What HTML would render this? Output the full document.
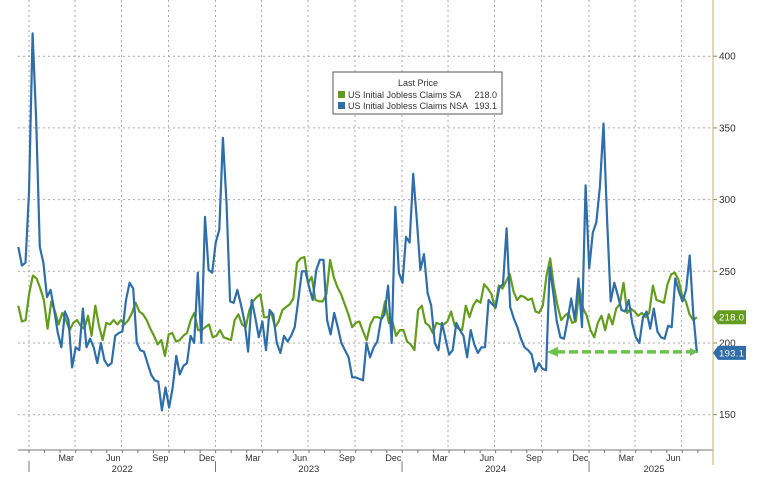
<!DOCTYPE html>
<html><head><meta charset="utf-8">
<style>
html,body{margin:0;padding:0;background:#fff;}
svg{display:block;font-family:"Liberation Sans",sans-serif;}
</style></head>
<body>
<svg id="chart" width="760" height="485" viewBox="0 0 760 485" xmlns="http://www.w3.org/2000/svg">
<g id="grid"></g>
<g id="xaxis"></g>
<g id="yaxis"></g>
<g id="series"></g>
<g id="annot"></g>
<g>
  <rect x="333" y="72" width="169" height="42" fill="#fff" stroke="#555" stroke-width="1"/>
  <text x="418" y="86" font-size="9" text-anchor="middle" fill="#333">Last Price</text>
  <rect x="338" y="91" width="7" height="7" fill="#5f9a1c"/>
  <text x="348" y="98" font-size="9" fill="#333">US Initial Jobless Claims SA</text>
  <text x="497" y="98" font-size="9" fill="#333" text-anchor="end">218.0</text>
  <rect x="338" y="102" width="7" height="7" fill="#2f6ea8"/>
  <text x="348" y="109" font-size="9" fill="#333">US Initial Jobless Claims NSA</text>
  <text x="497" y="109" font-size="9" fill="#333" text-anchor="end">193.1</text>
</g>
</svg>
<script>
const yTicks = [150, 200, 250, 300, 350, 400];
const monthLabels = ["Mar","Jun","Sep","Dec","Mar","Jun","Sep","Dec","Mar","Jun","Sep","Dec","Mar","Jun"];
const monthLabelDays = [73,165,257,348,438,530,622,713,804,896,988,1079,1169,1261];
const yearLabels = ["2022","2023","2024","2025"];
const yearStartDays = [0,365,730,1096];
const seriesStartDay = -21;
const seriesEndDay = 1307;
const nsaValues = [267,254,256,305,416,355,267,256,232,237,223,207,197,222,216,183,197,195,224,197,203,197,186,200,188,184,186,205,207,208,230,242,238,200,195,194,186,178,174,173,153,169,155,169,191,178,184,186,205,200,249,
200,288,251,249,270,279,343,298,229,228,237,227,215,194,230,218,204,215,195,223,220,200,193,205,201,205,211,230,250,250,239,230,251,258,258,216,206,221,211,200,195,190,176,176,175,174,200,190,197,
201,216,220,240,200,295,249,242,274,270,318,286,251,262,235,226,200,195,214,203,192,195,214,209,205,190,209,199,193,197,197,230,227,225,239,241,280,225,217,211,203,197,195,192,180,186,182,181,
253,235,215,204,203,216,231,216,245,211,310,252,277,284,309,353,286,229,242,233,223,222,230,214,204,200,218,222,210,224,208,204,203,212,211,245,236,229,237,261,220,193.1];
const saValues = [226,215,216,235,247,245,238,230,210,229,222,213,221,216,209,214,216,212,210,219,205,226,212,202,214,213,216,213,216,213,216,221,228,222,220,216,210,205,199,202,191,206,207,201,202,205,207,216,221,
209,209,211,213,204,205,209,204,203,202,216,220,213,211,223,229,232,234,218,218,221,211,215,223,225,227,231,256,259,260,242,246,230,229,229,234,258,246,239,234,227,220,211,214,215,208,202,213,218,
218,217,229,214,215,205,209,209,201,199,195,223,226,214,212,207,214,213,213,215,222,212,210,209,226,218,226,230,228,241,238,234,224,240,238,243,248,236,230,233,232,230,231,222,221,226,247,
259,240,226,216,219,221,214,215,238,224,219,209,204,214,219,209,220,213,224,227,242,221,224,222,219,221,218,221,240,230,229,228,241,248,249,244,233,229,220,216,218];
const lastSA = 218.0;
const lastNSA = 193.1;

const NS = "http://www.w3.org/2000/svg";
const X0 = 29, PXD = 0.5110, AXR = 713, AXB = 450;
function xScale(d){ return X0 + d * PXD; }
function yScale(v){ return 343 - (v - 200) * 1.434; }
function mk(tag, parent, attrs){ const e = document.createElementNS(NS, tag); for (const k in attrs) e.setAttribute(k, attrs[k]); parent.appendChild(e); return e; }

const grid = document.getElementById('grid');
const xa = document.getElementById('xaxis');
const ya = document.getElementById('yaxis');
const ser = document.getElementById('series');
const an = document.getElementById('annot');

yTicks.forEach(v => {
  const y = yScale(v);
  const l = mk('line', grid, {x1:18, x2:AXR, y1:y, y2:y, stroke:'#aaa', 'stroke-width':1, 'stroke-dasharray':'2,3'});
  
  
  mk('line', ya, {x1:AXR, x2:AXR+4, y1:y, y2:y, stroke:'#8a8a50', 'stroke-width':1});
  const t = mk('text', ya, {x:AXR+6, y:y+3.5, 'font-size':10, fill:'#333'});
  t.textContent = v;
  
  
});
for (let q = 0; q < 15; q++) {
  const yr = Math.floor(q/4), qq = q % 4;
  const d = yearStartDays[Math.min(yr,3)] + [0,90,181,273][qq] + (yr > 3 ? 365 : 0);
  const x = xScale(d);
  if (x > AXR) break;
  const l = mk('line', grid, {x1:x, x2:x, y1:0, y2:AXB, stroke:'#aaa', 'stroke-width':1, 'stroke-dasharray':'2,3'});
  
  
}
mk('line', ya, {x1:AXR, x2:AXR, y1:0, y2:465, stroke:'#b7b57a', 'stroke-width':1});
mk('line', xa, {x1:18, x2:AXR, y1:AXB, y2:AXB, stroke:'#777', 'stroke-width':1});
for (let m = -1; m < 44; m++) {
  const d = m * 30.44;
  const x = xScale(d);
  if (x < 18 || x > AXR) continue;
  mk('line', xa, {x1:x, x2:x, y1:AXB, y2:AXB+3, stroke:'#777', 'stroke-width':1});
}
monthLabels.forEach((s, i) => {
  const t = mk('text', xa, {x:xScale(monthLabelDays[i]), y:AXB+11, 'font-size':9, fill:'#333', 'text-anchor':'middle'});
  t.textContent = s;
  
  
});
yearLabels.forEach((s, i) => {
  const xs = xScale(yearStartDays[i]);
  mk('line', xa, {x1:xs, x2:xs, y1:AXB+11, y2:AXB+22, stroke:'#777', 'stroke-width':1});
  const end = i < 3 ? xScale(yearStartDays[i+1]) : 697 + 22;
  const t = mk('text', xa, {x:(xs+end)/2, y:AXB+22, 'font-size':9.5, fill:'#333', 'text-anchor':'middle'});
  t.textContent = s;
  
  
});

function drawSeries(vals, color, name){
  const n = vals.length;
  const pts = vals.map((v, i) => {
    const d = seriesStartDay + i * (seriesEndDay - seriesStartDay) / (n - 1);
    return xScale(d).toFixed(1) + ',' + yScale(v).toFixed(1);
  }).join(' ');
  const p = mk('polyline', ser, {points:pts, fill:'none', stroke:color, 'stroke-width':2.2, 'stroke-linejoin':'round'});
  
  
}
drawSeries(saValues, '#649c1e', 'sa-line');
drawSeries(nsaValues, '#2f6ea8', 'nsa-line');

const ay = yScale(lastNSA) - 1;
const arr = mk('line', an, {x1:556, x2:692, y1:ay, y2:ay, stroke:'#6cc24a', 'stroke-width':3.5, 'stroke-dasharray':'9,4'});


mk('polygon', an, {points:`547,${ay} 558,${ay-5} 558,${ay+5}`, fill:'#6cc24a'});
mk('polygon', an, {points:`698,${ay} 690,${ay-4} 690,${ay+4}`, fill:'#6cc24a'});

function tag(v, color, name){
  const y = yScale(v);
  const g = mk('g', ya, {});
  
  
  mk('polygon', g, {points:`${AXR},${y} ${AXR+5},${y-7} ${AXR+33},${y-7} ${AXR+33},${y+7} ${AXR+5},${y+7}`, fill:color});
  const t = mk('text', g, {x:AXR+6, y:y+3.5, 'font-size':9.5, fill:'#fff', textLength:25});
  t.textContent = v.toFixed(1);
}
tag(lastSA, '#649c1e', 'sa-last-value-tag');
tag(lastNSA, '#2f6ea8', 'nsa-last-value-tag');
</script>
</body></html>
